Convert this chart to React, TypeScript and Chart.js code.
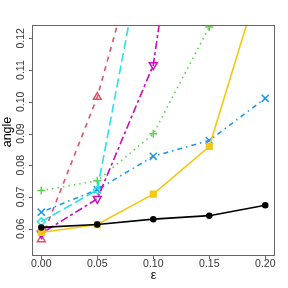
import React, { useEffect, useRef } from "react";
import { Chart, registerables } from "chart.js";

Chart.register(...registerables);

const epsValues = [0, 0.05, 0.1, 0.15, 0.2];
const xTicks = [0, 0.05, 0.1, 0.15, 0.2];
const xTickLabels = ["0.00", "0.05", "0.10", "0.15", "0.20"];
const yTicks = [0.06, 0.07, 0.08, 0.09, 0.1, 0.11, 0.12];
const yTickLabels = ["0.06", "0.07", "0.08", "0.09", "0.10", "0.11", "0.12"];

const blackSeries = [0.0604, 0.0613, 0.063, 0.0641, 0.0674];
const redSeries = [0.0566, 0.1015, 0.165, 0.23, 0.3];
const greenSeries = [0.072, 0.0751, 0.0899, 0.1236, 0.16];
const blueSeries = [0.0652, 0.0723, 0.0828, 0.0878, 0.1011];
const cyanSeries = [0.0622, 0.0722, 0.165, 0.25, 0.33];
const magentaSeries = [0.0585, 0.0694, 0.1116, 0.232, 0.35];
const yellowSeries = [0.0588, 0.0613, 0.0709, 0.0859, 0.1435];

const xTitle = "ε";
const yTitle = "angle";

const FONT = "'Liberation Sans', Arial, sans-serif";

function toPoints(vals: number[]) {
  return vals.map((v, i) => ({ x: epsValues[i], y: v }));
}

const axesPlugin = {
  id: "rAxes",
  afterDraw(chart: any) {
    const { ctx, chartArea } = chart;
    const xs = chart.scales.x;
    const ys = chart.scales.y;
    ctx.save();
    ctx.strokeStyle = "#666";
    ctx.lineWidth = 1;
    ctx.strokeRect(chartArea.left - 0.5, chartArea.top - 0.5, chartArea.right - chartArea.left + 1, chartArea.bottom - chartArea.top + 1);
    ctx.fillStyle = "#333";
    ctx.font = `10.5px ${FONT}`;
    ctx.textAlign = "center";
    ctx.textBaseline = "middle";
    xTicks.forEach((t, i) => {
      const px = Math.round(xs.getPixelForValue(t)) + 0.5;
      ctx.beginPath();
      ctx.moveTo(px, chartArea.bottom);
      ctx.lineTo(px, chartArea.bottom + 4);
      ctx.stroke();
      ctx.fillText(xTickLabels[i], xs.getPixelForValue(t), chartArea.bottom + 9);
    });
    yTicks.forEach((t, i) => {
      const py = Math.round(ys.getPixelForValue(t)) + 0.5;
      ctx.beginPath();
      ctx.moveTo(chartArea.left, py);
      ctx.lineTo(chartArea.left - 4, py);
      ctx.stroke();
      ctx.save();
      ctx.translate(chartArea.left - 12, ys.getPixelForValue(t));
      ctx.rotate(-Math.PI / 2);
      ctx.fillText(yTickLabels[i], 0, 0);
      ctx.restore();
    });
    ctx.fillStyle = "#000";
    ctx.font = `12.5px ${FONT}`;
    ctx.fillText(xTitle, (chartArea.left + chartArea.right) / 2, chartArea.bottom + 21);
    ctx.save();
    ctx.translate(8, 132);
    ctx.rotate(-Math.PI / 2);
    ctx.fillText(yTitle, 0, 0);
    ctx.restore();
    ctx.restore();
  },
};

export default function App() {
  const ref = useRef<HTMLCanvasElement>(null);
  useEffect(() => {
    if (!ref.current) return;
    const lw = 1.6;
    const mk = (
      label: string,
      data: number[],
      color: string,
      dash: number[],
      pointStyle: any,
      radius: number,
      filled: boolean,
      rotation = 0
    ) => ({
      label,
      data: toPoints(data),
      borderColor: color,
      backgroundColor: filled ? color : "rgba(0,0,0,0)",
      borderWidth: lw,
      borderDash: dash,
      pointStyle,
      pointRadius: radius,
      pointBorderWidth: 1.5,
      pointBorderColor: color,
      pointBackgroundColor: filled ? color : "rgba(0,0,0,0)",
      pointRotation: rotation,
      tension: 0,
      clip: 0,
      fill: false,
    });
    const chart = new Chart(ref.current, {
      type: "line",
      data: {
        datasets: [
          mk("black", blackSeries, "#000000", [], "circle", 2.5, true),
          mk("yellow", yellowSeries, "#F5C710", [], "rect", 4, true),
          mk("magenta", magentaSeries, "#CD0BBC", [3, 3, 8, 3], "triangle", 4.5, false, 180),
          mk("cyan", cyanSeries, "#28E2E5", [9, 4], "rectRot", 4, false),
          mk("blue", blueSeries, "#2297E6", [1.5, 4, 5, 4], "crossRot", 5, false),
          mk("green", greenSeries, "#61D04F", [1.5, 4], "cross", 4, false),
          mk("red", redSeries, "#DF536B", [5, 5], "triangle", 4.5, false),
        ],
      },
      options: {
        animation: false,
        responsive: false,
        maintainAspectRatio: false,
        layout: { padding: { left: 33, top: 26, right: 14, bottom: 33 } },
        plugins: { legend: { display: false }, tooltip: { enabled: false } },
        scales: {
          x: { type: "linear", min: -0.0074, max: 0.2078, display: false },
          y: { type: "linear", min: 0.0517, max: 0.1239, display: false },
        },
      },
      plugins: [axesPlugin],
    });
    return () => chart.destroy();
  }, []);
  return (
    <div style={{ position: "fixed", left: 0, top: 0, width: 288, height: 288, background: "#fff" }}>
      <canvas ref={ref} width={288} height={288} style={{ display: "block" }} />
    </div>
  );
}
